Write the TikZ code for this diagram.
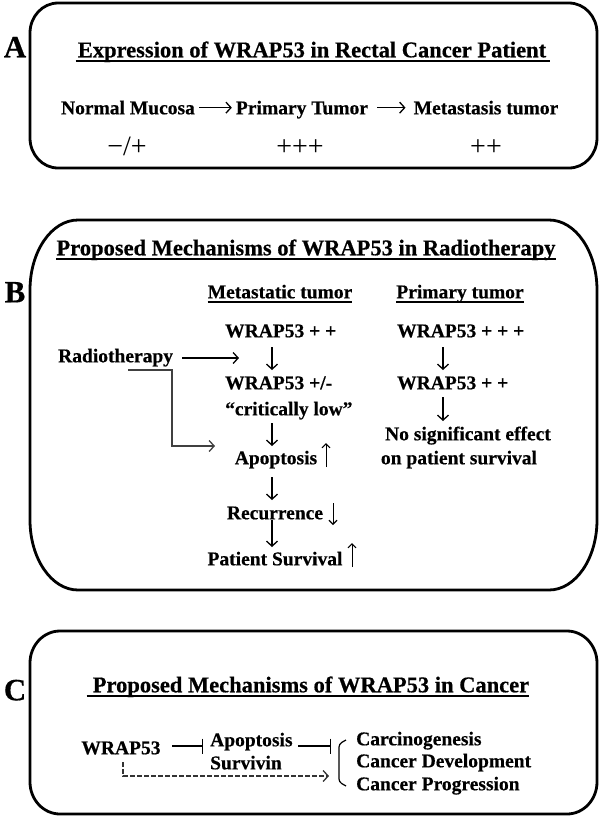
\documentclass[tikz,border=0pt]{standalone}
\usepackage{fontspec}
\setmainfont{Liberation Serif}[BoldFeatures={FakeBold=0.5}]
\usetikzlibrary{arrows.meta}
\newcommand\ovalpanel[6]{%
  \draw[panel] ({#1+#5},#2) -- ({#3-#5},#2)
   .. controls ({#3-0.448*#5},#2) and (#3,{#2+0.448*#6}) .. (#3,{#2+#6})
   -- (#3,{#4-#6})
   .. controls (#3,{#4-0.448*#6}) and ({#3-0.448*#5},#4) .. ({#3-#5},#4)
   -- ({#1+#5},#4)
   .. controls ({#1+0.448*#5},#4) and (#1,{#4-0.448*#6}) .. (#1,{#4-#6})
   -- (#1,{#2+#6})
   .. controls (#1,{#2+0.448*#6}) and ({#1+0.448*#5},#2) .. ({#1+#5},#2) -- cycle;}
\begin{document}
\begin{tikzpicture}[x=1pt,y=-1pt,
  txt/.style={font=\bfseries\fontsize{19.5}{22}\selectfont, inner sep=0pt, anchor=mid},
  ttl/.style={font=\bfseries\fontsize{22.5}{26}\selectfont, inner sep=0pt, anchor=mid},
  lab/.style={font=\bfseries\fontsize{31}{36}\selectfont, inner sep=0pt, anchor=mid},
  sym/.style={font=\fontsize{28}{32}\selectfont, inner sep=0pt, anchor=mid},
  panel/.style={line width=2.8pt, line join=round},
  ul/.style={line width=1.5pt},
  arr/.style={line width=1.3pt, -{Straight Barb[length=5pt,width=11pt,line width=1.3pt]}},
  sarr/.style={line width=1pt, -{Straight Barb[length=4pt,width=8pt,line width=1.1pt]}},
  bent/.style={line width=1.4pt, draw=black!75, -{Straight Barb[length=5pt,width=11pt,line width=1.3pt]}},
  inh/.style={line width=1.3pt, -{Bar[width=15pt,line width=1.3pt]}},
  dsh/.style={line width=1.2pt, draw=black!80, dash pattern=on 4.5pt off 2.5pt, -{Straight Barb[length=5pt,width=11pt,line width=1.3pt]}},
]
\useasboundingbox (0,0) rectangle (600,823);

% ---------- Panel A ----------
\ovalpanel{30}{3}{597}{168}{28}{30}
\node[lab] (la) at (15,55) {A};
\node[ttl] (ta) at (312,55) {Expression of WRAP53 in Rectal Cancer Patient};
\draw[ul] ([yshift=-3.5pt,xshift=-2pt]ta.base west) -- ([yshift=-3.5pt,xshift=4pt]ta.base east);
\node[txt] (nm) at (128,112) {Normal Mucosa};
\node[txt] (pt) at (302,112) {Primary Tumor};
\node[txt] (mt) at (486,112) {Metastasis tumor};
\draw[arr, shorten <=4pt, shorten >=4pt] (nm.east) -- (nm.east -| pt.west);
\draw[arr, shorten <=9pt, shorten >=8pt] (pt.east |- nm.east) -- (nm.east -| mt.west);
\node[sym] (s1) at (127,153) {−/+};
\node[sym] (s2) at (300,153) {+++};
\node[sym] (s3) at (486,153) {++};

% ---------- Panel B ----------
\ovalpanel{30}{220}{597}{590}{48}{70}
\node[lab] (lb) at (15,300) {B};
\node[ttl] (tb) at (306,253) {Proposed Mechanisms of WRAP53 in Radiotherapy};
\draw[ul] ([yshift=-3.5pt]tb.base west) -- ([yshift=-3.5pt]tb.base east);
\node[txt] (hm) at (280,296) {Metastatic tumor};
\draw[ul] ([yshift=-3.5pt]hm.base west) -- ([yshift=-3.5pt]hm.base east);
\node[txt] (hp) at (460,296) {Primary tumor};
\draw[ul] ([yshift=-3.5pt]hp.base west) -- ([yshift=-3.5pt]hp.base east);

\node[txt,anchor=mid west] (w1) at (225,335) {WRAP53 + +};
\node[txt,anchor=mid west] (w2) at (225,387) {WRAP53 +/-};
\node[txt,anchor=mid west] (cl) at (225,413) {``critically low''};
\node[txt] (ap) at (276,462) {Apoptosis};
\node[txt] (rc) at (275,517) {Recurrence};
\node[txt] (ps) at (275,563) {Patient Survival};
\node[txt,anchor=mid west] (rt) at (58,360) {Radiotherapy};
\node[txt,anchor=mid west] (p1) at (397,335) {WRAP53 + + +};
\node[txt,anchor=mid west] (p2) at (397,387) {WRAP53 + +};
\node[txt] (ns) at (468,438) {No significant effect};
\node[txt] (op) at (459,462) {on patient survival};

% arrow end points
\coordinate (m1a) at (272,347); \coordinate (m1b) at (272,370);
\coordinate (m2a) at (272,423); \coordinate (m2b) at (272,446);
\coordinate (m3a) at (272,477); \coordinate (m3b) at (272,500);
\coordinate (m4a) at (272,520); \coordinate (m4b) at (272,547);
\coordinate (r1a) at (443,347); \coordinate (r1b) at (443,370);
\coordinate (r2a) at (443,397); \coordinate (r2b) at (443,421);
\coordinate (rta) at (182,358); \coordinate (rtb) at (239,358);
\coordinate (bna) at (128,370); \coordinate (bnb) at (172,446); \coordinate (bnc) at (215,446);
\coordinate (upa) at (326,467); \coordinate (upb) at (326,443);
\coordinate (dna) at (333,503); \coordinate (dnb) at (333,525);
\coordinate (psa) at (352,567); \coordinate (psb) at (352,543);

\draw[arr] (m1a) -- (m1b);
\draw[arr] (m2a) -- (m2b);
\draw[arr] (m3a) -- (m3b);
\draw[arr] (m4a) -- (m4b);
\draw[arr] (r1a) -- (r1b);
\draw[arr] (r2a) -- (r2b);
\draw[arr] (rta) -- (rtb);
\draw[bent] (bna) -| (bnb) -- (bnc);
\draw[sarr] (upa) -- (upb);
\draw[sarr] (dna) -- (dnb);
\draw[sarr] (psa) -- (psb);

% ---------- Panel C ----------
\ovalpanel{30}{631}{597}{814}{30}{32}
\node[lab] (lc) at (15,698) {C};
\node[ttl] (tc) at (311,690) {Proposed Mechanisms of WRAP53 in Cancer};
\draw[ul] ([yshift=-3.5pt,xshift=-6pt]tc.base west) -- ([yshift=-3.5pt]tc.base east);
\node[txt] (wc) at (121,752) {WRAP53};
\node[txt,anchor=mid west] (ac) at (210,744) {Apoptosis};
\node[txt,anchor=mid west] (sv) at (210,767) {Survivin};
\node[txt,anchor=mid west] (c1) at (356,743) {Carcinogenesis};
\node[txt,anchor=mid west] (c2) at (356,765) {Cancer Development};
\node[txt,anchor=mid west] (c3) at (356,788) {Cancer Progression};
\coordinate (ia) at (172,746); \coordinate (ib) at (203,746);
\coordinate (ic) at (298,746); \coordinate (id) at (331,746);
\coordinate (da) at (123,762); \coordinate (db) at (123,776); \coordinate (dc) at (329,776);
\draw[inh] (ia) -- (ib);
\draw[inh] (ic) -- (id);
\draw[dsh] (da) |- (dc);
\draw[line width=1.2pt, rounded corners=3pt] (346,740) -- (339,744) -- (339,782) -- (346,786);
\end{tikzpicture}
\end{document}
